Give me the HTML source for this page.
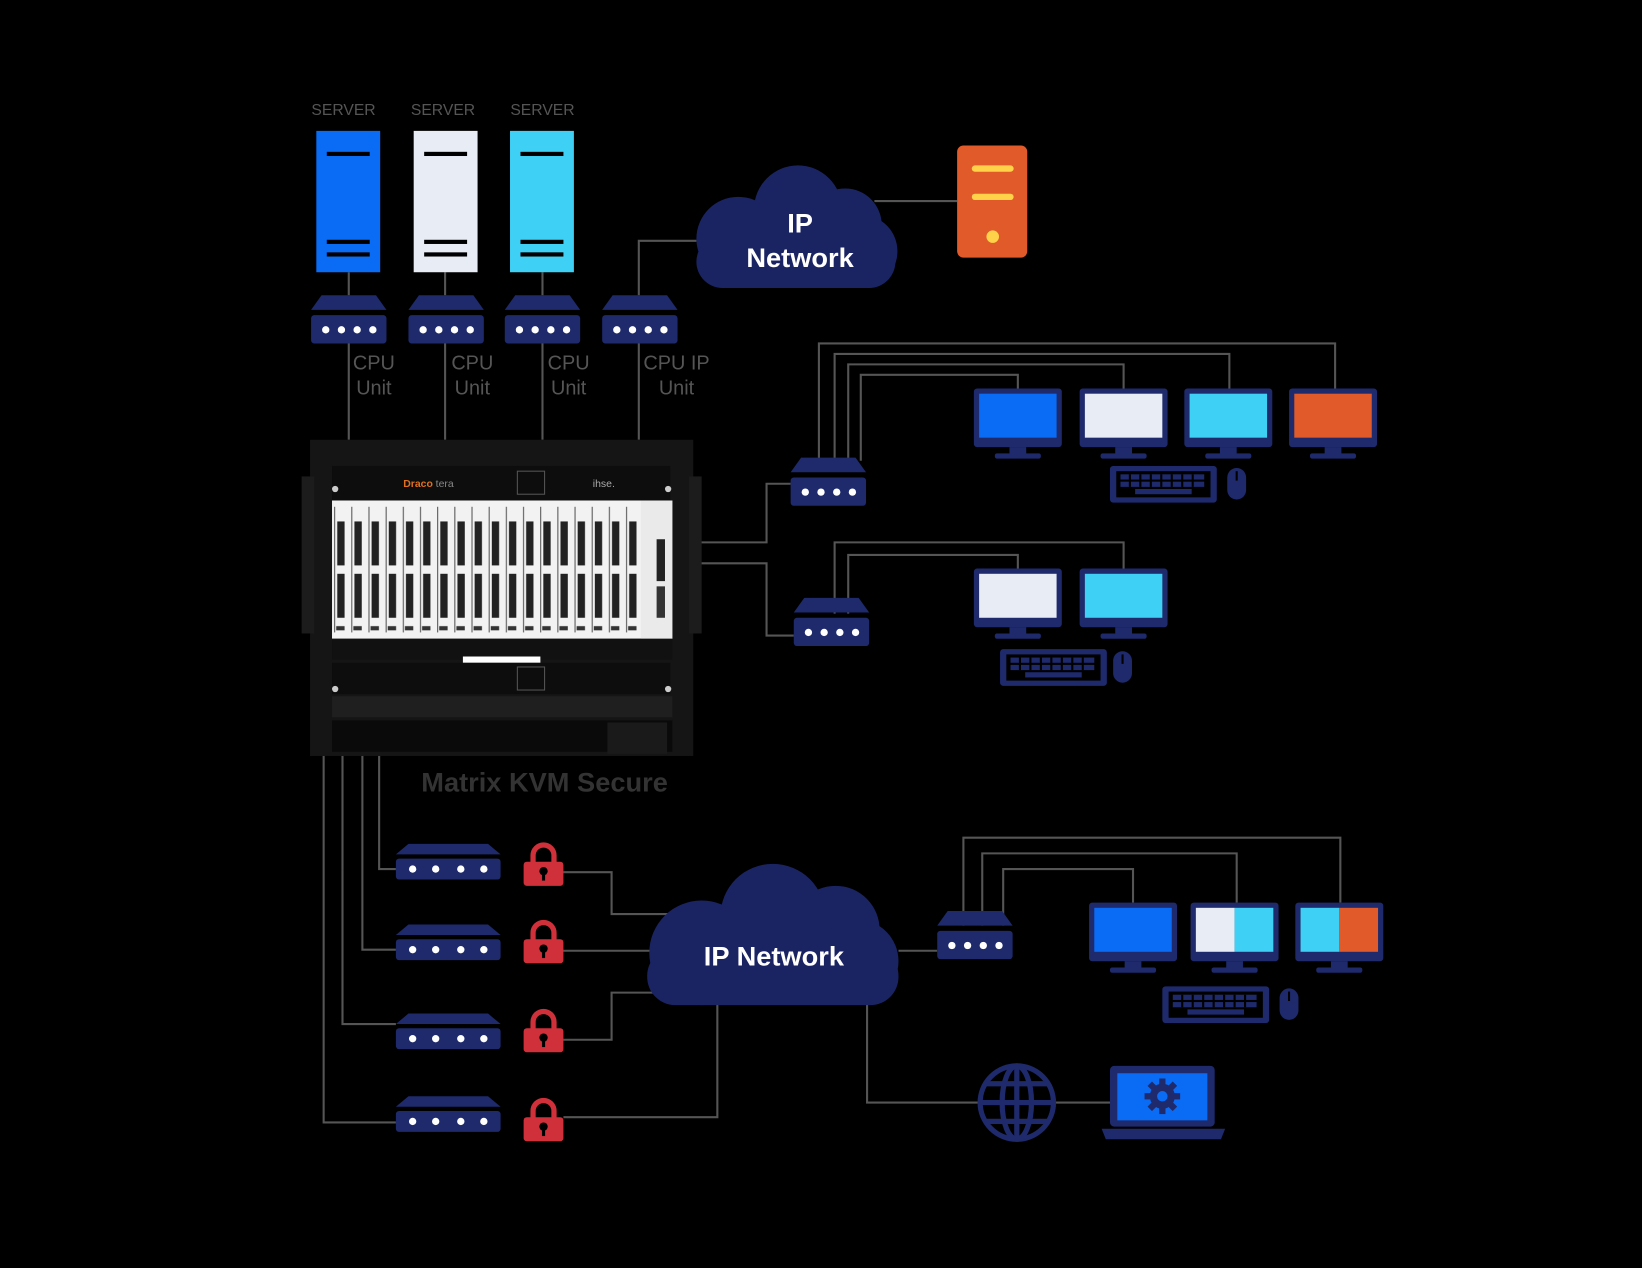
<!DOCTYPE html>
<html><head><meta charset="utf-8"><style>
html,body{margin:0;padding:0;background:#000;}
svg{display:block}
text{font-family:"Liberation Sans",Arial,sans-serif}
</style></head><body>
<svg width="1642" height="1268" viewBox="0 0 1568 1211" xmlns="http://www.w3.org/2000/svg">
<defs>
<g id="dev">
<polygon points="10,0 62,0 72,14 0,14" fill="#1e2a6b"/>
<rect x="0" y="19" width="72" height="27" rx="3" fill="#1e2a6b"/>
<circle cx="14" cy="33" r="3.5" fill="#fff"/><circle cx="29" cy="33" r="3.5" fill="#fff"/><circle cx="44" cy="33" r="3.5" fill="#fff"/><circle cx="59" cy="33" r="3.5" fill="#fff"/>
</g>
<g id="mon">
<rect x="0" y="0" width="84" height="56" rx="3" fill="#1e2a6b"/>
<rect x="34" y="56" width="16" height="7" fill="#1e2a6b"/>
<rect x="20" y="62" width="44" height="5" rx="2" fill="#1e2a6b"/>
</g>
<g id="kb">
<rect x="0" y="0" width="102" height="35" rx="3" fill="#1e2a6b"/>
<rect x="6" y="5" width="90" height="25" fill="#000"/>
<g fill="#1e2a6b">
<rect x="10" y="8" width="80" height="5"/><rect x="10" y="15" width="80" height="5"/><rect x="24" y="22" width="54" height="5"/>
</g>
<g fill="#000"><rect x="18" y="8" width="2" height="12"/><rect x="28" y="8" width="2" height="12"/><rect x="38" y="8" width="2" height="12"/><rect x="48" y="8" width="2" height="12"/><rect x="58" y="8" width="2" height="12"/><rect x="68" y="8" width="2" height="12"/><rect x="78" y="8" width="2" height="12"/></g>
</g>
<g id="mouse"><rect x="0" y="0" width="18" height="30" rx="9" fill="#1e2a6b"/><line x1="9" y1="3" x2="9" y2="12" stroke="#000" stroke-width="2"/></g>
<g id="lock">
<path d="M9,18 V11 A10,10 0 0 1 29,11 V18" fill="none" stroke="#d0303a" stroke-width="5"/>
<rect x="0" y="17" width="38" height="23" rx="3" fill="#d0303a"/>
<circle cx="19" cy="26" r="4" fill="#000"/><rect x="17.5" y="27" width="3" height="8" fill="#000"/>
</g>
<g id="bdev">
<polygon points="12,0 88,0 100,10 0,10" fill="#1e2a6b"/>
<rect x="0" y="14" width="100" height="20" rx="3" fill="#1e2a6b"/>
<circle cx="16" cy="24" r="3.5" fill="#fff"/><circle cx="38" cy="24" r="3.5" fill="#fff"/><circle cx="62" cy="24" r="3.5" fill="#fff"/><circle cx="84" cy="24" r="3.5" fill="#fff"/>
</g>
<pattern id="cards" x="317" y="478" width="16.4" height="132" patternUnits="userSpaceOnUse">
<rect width="16.4" height="132" fill="#f2f2f2"/>
<rect x="2" y="6" width="1" height="120" fill="#555"/>
<rect x="5" y="20" width="7" height="42" fill="#222"/>
<rect x="5" y="70" width="7" height="42" fill="#222"/>
<rect x="4" y="120" width="8" height="4" fill="#333"/>
</pattern>
</defs>
<rect width="1568" height="1211" fill="#000"/>
<g fill="none" stroke="#555" stroke-width="2">
<path d="M333,260V282M425,260V282M518,260V282"/>
<path d="M610,282V230H665"/>
<path d="M835,192H914"/>
<path d="M333,327V420M425,327V420M518,327V420M610,327V420"/>
<path d="M782,440V328H1275V372M797,440V338H1174V372M810,440V348H1073V372M822,440V358H972V372"/>
<path d="M612,518H732V462H755"/>
<path d="M612,538H732V607H758"/>
<path d="M797,586V518H1073V543M810,586V530H972V543"/>
<path d="M362,700V830H378M346,700V907H378M327,700V978H378M309,700V1072H378"/>
<path d="M538,833H584V873H665M538,908H625M538,993H584V948H635M538,1067H685V958"/>
<path d="M858,908H895"/>
<path d="M920,884V800H1280V862M938,884V815H1181V862M958,884V830H1082V862"/>
<path d="M828,958V1053H935M1008,1053H1062"/>
</g>
<g font-size="15" fill="#555" text-anchor="middle"><text x="328" y="110">SERVER</text><text x="423" y="110">SERVER</text><text x="518" y="110">SERVER</text></g>
<rect x="302" y="125" width="61" height="135" fill="#0a6cf5"/>
<rect x="395" y="125" width="61" height="135" fill="#e8ecf5"/>
<rect x="487" y="125" width="61" height="135" fill="#3fd0f5"/>
<g fill="#000">
<rect x="312" y="145" width="41" height="4"/><rect x="312" y="229" width="41" height="4"/><rect x="312" y="241" width="41" height="4"/>
<rect x="405" y="145" width="41" height="4"/><rect x="405" y="229" width="41" height="4"/><rect x="405" y="241" width="41" height="4"/>
<rect x="497" y="145" width="41" height="4"/><rect x="497" y="229" width="41" height="4"/><rect x="497" y="241" width="41" height="4"/>
</g>
<use href="#dev" x="297" y="282"/><use href="#dev" x="390" y="282"/><use href="#dev" x="482" y="282"/><use href="#dev" x="575" y="282"/>
<g font-size="19" fill="#555" text-anchor="middle">
<text x="357" y="353">CPU</text><text x="357" y="377">Unit</text>
<text x="451" y="353">CPU</text><text x="451" y="377">Unit</text>
<text x="543" y="353">CPU</text><text x="543" y="377">Unit</text>
<text x="646" y="353">CPU IP</text><text x="646" y="377">Unit</text>
</g>
<!-- top cloud -->
<g fill="#1b2463">
<circle cx="762" cy="200" r="42"/><circle cx="807" cy="215" r="35"/><circle cx="705" cy="228" r="40"/><circle cx="822" cy="240" r="35"/>
<rect x="665" y="225" width="190" height="50" rx="25"/>
</g>
<g font-size="26" font-weight="bold" fill="#fff" text-anchor="middle"><text x="764" y="222">IP</text><text x="764" y="255">Network</text></g>
<rect x="914" y="139" width="67" height="107" rx="6" fill="#e05a2a"/>
<rect x="928" y="158" width="40" height="6" rx="3" fill="#ffd24a"/><rect x="928" y="185" width="40" height="6" rx="3" fill="#ffd24a"/>
<circle cx="948" cy="226" r="6" fill="#ffd24a"/>
<!-- chassis -->
<rect x="296" y="420" width="366" height="302" fill="#151515"/>
<rect x="288" y="455" width="12" height="150" fill="#1c1c1c"/><rect x="658" y="455" width="12" height="150" fill="#1c1c1c"/>
<rect x="317" y="445" width="323" height="33" fill="#0d0d0d"/>
<text x="385" y="465" font-size="10" font-weight="bold" fill="#e07020">Draco</text><text x="416" y="465" font-size="10" fill="#888">tera</text>
<text x="566" y="465" font-size="10" fill="#aaa">ihse.</text>
<rect x="494" y="450" width="26" height="22" fill="none" stroke="#555"/>
<circle cx="320" cy="467" r="3" fill="#ccc"/><circle cx="638" cy="467" r="3" fill="#ccc"/>
<rect x="317" y="478" width="325" height="132" fill="url(#cards)"/>
<rect x="612" y="478" width="30" height="132" fill="#eaeaea"/>
<rect x="627" y="515" width="8" height="40" fill="#222"/>
<rect x="627" y="560" width="8" height="30" fill="#333"/>
<rect x="317" y="610" width="325" height="20" fill="#111"/>
<rect x="442" y="627" width="74" height="6" fill="#fff"/>
<rect x="317" y="633" width="323" height="30" fill="#0d0d0d"/>
<rect x="494" y="637" width="26" height="22" fill="none" stroke="#555"/>
<circle cx="320" cy="658" r="3" fill="#ccc"/><circle cx="638" cy="658" r="3" fill="#ccc"/>
<rect x="317" y="665" width="325" height="20" fill="#1f1f1f"/>
<rect x="317" y="688" width="325" height="30" fill="#0a0a0a"/>
<rect x="580" y="690" width="57" height="30" fill="#1a1a1a"/>
<text x="520" y="756" font-size="26" font-weight="bold" fill="#333" text-anchor="middle">Matrix KVM Secure</text>
<!-- right top -->
<use href="#dev" x="755" y="437" transform="translate(0,0)"/>
<g transform="translate(930,371)"><use href="#mon"/><rect x="5" y="5" width="74" height="42" fill="#0a6cf5"/></g>
<g transform="translate(1031,371)"><use href="#mon"/><rect x="5" y="5" width="74" height="42" fill="#e8ecf5"/></g>
<g transform="translate(1131,371)"><use href="#mon"/><rect x="5" y="5" width="74" height="42" fill="#3fd0f5"/></g>
<g transform="translate(1231,371)"><use href="#mon"/><rect x="5" y="5" width="74" height="42" fill="#e05a2a"/></g>
<use href="#kb" x="1060" y="445"/><use href="#mouse" x="1172" y="447"/>
<use href="#dev" x="758" y="571"/>
<g transform="translate(930,543)"><use href="#mon"/><rect x="5" y="5" width="74" height="42" fill="#e8ecf5"/></g>
<g transform="translate(1031,543)"><use href="#mon"/><rect x="5" y="5" width="74" height="42" fill="#3fd0f5"/></g>
<use href="#kb" x="955" y="620"/><use href="#mouse" x="1063" y="622"/>
<!-- bottom left -->
<use href="#bdev" x="378" y="806"/><use href="#bdev" x="378" y="883"/><use href="#bdev" x="378" y="968"/><use href="#bdev" x="378" y="1047"/>
<use href="#lock" x="500" y="806"/><use href="#lock" x="500" y="880"/><use href="#lock" x="500" y="965"/><use href="#lock" x="500" y="1050"/>
<!-- bottom cloud -->
<g fill="#1b2463">
<circle cx="738" cy="875" r="50"/><circle cx="798" cy="888" r="42"/><circle cx="670" cy="910" r="50"/><circle cx="818" cy="918" r="40"/>
<rect x="618" y="905" width="240" height="55" rx="27"/>
</g>
<text x="739" y="922" font-size="26" font-weight="bold" fill="#fff" text-anchor="middle">IP Network</text>
<use href="#dev" x="895" y="870" transform="translate(0,0)"/>
<g transform="translate(1040,862)"><use href="#mon"/><rect x="5" y="5" width="74" height="42" fill="#0a6cf5"/></g>
<g transform="translate(1137,862)"><use href="#mon"/><rect x="5" y="5" width="37" height="42" fill="#e8ecf5"/><rect x="42" y="5" width="37" height="42" fill="#3fd0f5"/></g>
<g transform="translate(1237,862)"><use href="#mon"/><rect x="5" y="5" width="37" height="42" fill="#3fd0f5"/><rect x="42" y="5" width="37" height="42" fill="#e05a2a"/></g>
<use href="#kb" x="1110" y="942"/><use href="#mouse" x="1222" y="944"/>
<!-- globe -->
<g fill="none" stroke="#1e2a6b" stroke-width="5">
<circle cx="971" cy="1053" r="35"/><ellipse cx="971" cy="1053" rx="14" ry="35"/>
<line x1="971" y1="1018" x2="971" y2="1088"/><line x1="936" y1="1053" x2="1006" y2="1053"/>
<path d="M942,1035H1000M942,1071H1000"/>
</g>
<!-- laptop -->
<rect x="1060" y="1018" width="100" height="58" rx="4" fill="#1e2a6b"/>
<rect x="1067" y="1025" width="86" height="45" fill="#0a6cf5"/>
<path d="M1052,1078H1170L1166,1088H1056Z" fill="#1e2a6b"/>
<g transform="translate(1110,1047)">
<circle r="12" fill="#1e2a6b"/><circle r="5" fill="#0a6cf5"/>
<g fill="#1e2a6b"><rect x="-3" y="-17" width="6" height="34"/><rect x="-17" y="-3" width="34" height="6"/><rect x="-3" y="-17" width="6" height="34" transform="rotate(45)"/><rect x="-3" y="-17" width="6" height="34" transform="rotate(-45)"/></g>
<circle r="5" fill="#0a6cf5"/>
</g>
</svg>
</body></html>
